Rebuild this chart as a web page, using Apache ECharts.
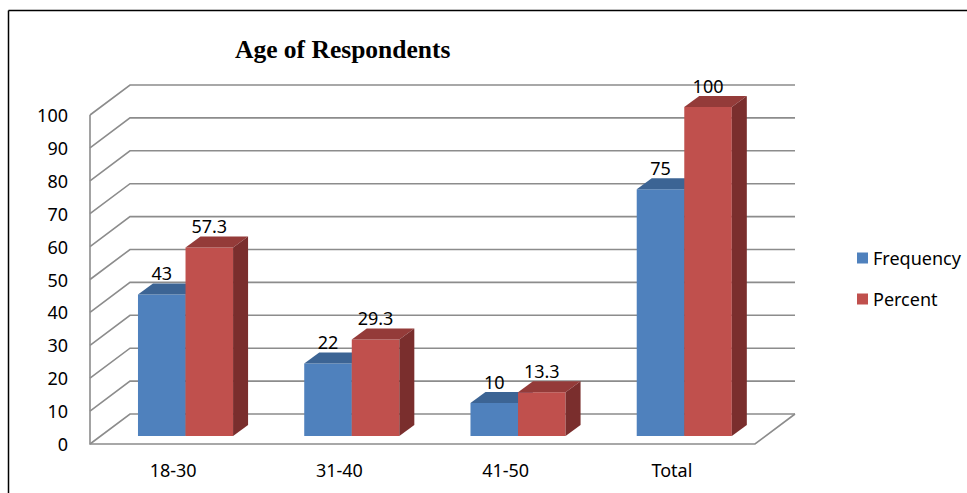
<!DOCTYPE html>
<html>
<head>
<meta charset="utf-8">
<title>Age of Respondents</title>
<script src="https://cdn.jsdelivr.net/npm/echarts@6/dist/echarts.min.js"></script>
<style>
    html, body { margin: 0; padding: 0; background: #fff; }
    #chart { width: 967px; height: 493px; }
</style>
</head>
<body>
<div id="chart"></div>
<script>
// data
var categories = ['18-30', '31-40', '41-50', 'Total'];
var frequency = [43, 22, 10, 75];
var percent = [57.3, 29.3, 13.3, 100];
var yTicks = [0, 10, 20, 30, 40, 50, 60, 70, 80, 90, 100];

// fake 3d: depth of the walls and of the bars, in px
var WALL_DX = 40, WALL_DY = -30;
var BAR_OFF_X = 12.4, BAR_OFF_Y = -8;
var BAR_DX = 15, BAR_DY = -11;
var FONT = '"Noto Sans", sans-serif';

var chart = echarts.init(document.getElementById('chart'), null, { renderer: 'svg' });

function wallItem(params, api) {
    var cs = params.coordSys;
    var v = api.value(1);
    var y = api.coord([0, v])[1];
    var x0 = cs.x, x1 = cs.x + cs.width;
    var line = { stroke: '#8c8c8c', lineWidth: 1.6, fill: null };
    var kids = [{
        type: 'polyline',
        shape: { points: [[x0, y], [x0 + WALL_DX, y + WALL_DY], [x1 + WALL_DX, y + WALL_DY]] },
        style: line
    }];
    if (v === 0) {
        // floor front edge + left wall front edge
        kids.push({
            type: 'polyline',
            shape: { points: [[x1 + WALL_DX, y + WALL_DY], [x1, y], [x0, y], [x0, cs.y]] },
            style: line
        });
    }
    return { type: 'group', children: kids };
}

function barItem(side, colors) {
    return function (params, api) {
        var cat = api.value(0), v = api.value(1);
        var base = api.coord([cat, 0]);
        var top = api.coord([cat, v]);
        var band = api.size([1, 0])[0];
        var w = band * 0.286;
        var fx = base[0] + BAR_OFF_X + (side === 0 ? -w : 0);
        var by = base[1] + BAR_OFF_Y;
        var ty = top[1] + BAR_OFF_Y;
        return {
            type: 'group',
            children: [
                { type: 'rect', shape: { x: fx, y: ty, width: w, height: by - ty }, style: { fill: colors[0] } },
                { type: 'polygon', shape: { points: [[fx, ty], [fx + BAR_DX, ty + BAR_DY], [fx + w + BAR_DX, ty + BAR_DY], [fx + w, ty]] }, style: { fill: colors[1] } },
                { type: 'polygon', shape: { points: [[fx + w, ty], [fx + w + BAR_DX, ty + BAR_DY], [fx + w + BAR_DX, by + BAR_DY], [fx + w, by]] }, style: { fill: colors[2] } },
                {
                    type: 'text',
                    x: fx + w / 2, y: ty + BAR_DY - 10.5,
                    style: { text: String(v), fill: '#000', font: '18px ' + FONT, align: 'center', verticalAlign: 'middle' }
                }
            ]
        };
    };
}

var option = {
    backgroundColor: '#fff',
    animation: false,
    title: {
        text: 'Age of Respondents',
        left: 230,
        top: 31,
        textStyle: { fontFamily: '"Liberation Serif", serif', fontWeight: 'bold', fontSize: 25.5, color: '#000' }
    },
    legend: {
        orient: 'vertical',
        left: 852,
        top: 244,
        itemWidth: 11,
        itemHeight: 11,
        itemGap: 23,
        icon: 'rect',
        textStyle: { fontFamily: FONT, fontSize: 18, color: '#000' },
        data: ['Frequency', 'Percent']
    },
    grid: { left: 90, right: 212, top: 115, bottom: 49 },
    xAxis: {
        type: 'category',
        data: categories,
        axisLine: { show: false },
        axisTick: { show: false },
        axisLabel: { margin: 17, fontSize: 18, fontFamily: FONT, color: '#000' }
    },
    yAxis: {
        type: 'value',
        min: 0,
        max: 100,
        interval: 10,
        axisLine: { show: false },
        axisTick: { show: false },
        splitLine: { show: false },
        axisLabel: { margin: 22, fontSize: 18, fontFamily: FONT, color: '#000' }
    },
    graphic: [
        { type: 'line', shape: { x1: 8.5, y1: 10.5, x2: 967, y2: 10.5 }, style: { stroke: '#000', lineWidth: 1.5 } },
        { type: 'line', shape: { x1: 8.5, y1: 10.5, x2: 8.5, y2: 493 }, style: { stroke: '#000', lineWidth: 1.5 } }
    ],
    series: [
        {
            type: 'custom',
            silent: true,
            z: 1,
            clip: false,
            renderItem: wallItem,
            data: yTicks.map(function (v) { return [0, v]; })
        },
        {
            name: 'Frequency',
            type: 'custom',
            z: 2,
            clip: false,
            itemStyle: { color: '#4F81BD' },
            renderItem: barItem(0, ['#4F81BD', '#3C6494', '#2F4E75']),
            data: frequency.map(function (v, i) { return [i, v]; })
        },
        {
            name: 'Percent',
            type: 'custom',
            z: 3,
            clip: false,
            itemStyle: { color: '#C0504D' },
            renderItem: barItem(1, ['#C0504D', '#943B39', '#7A2E2D']),
            data: percent.map(function (v, i) { return [i, v]; })
        }
    ]
};

chart.setOption(option);
</script>
</body>
</html>
